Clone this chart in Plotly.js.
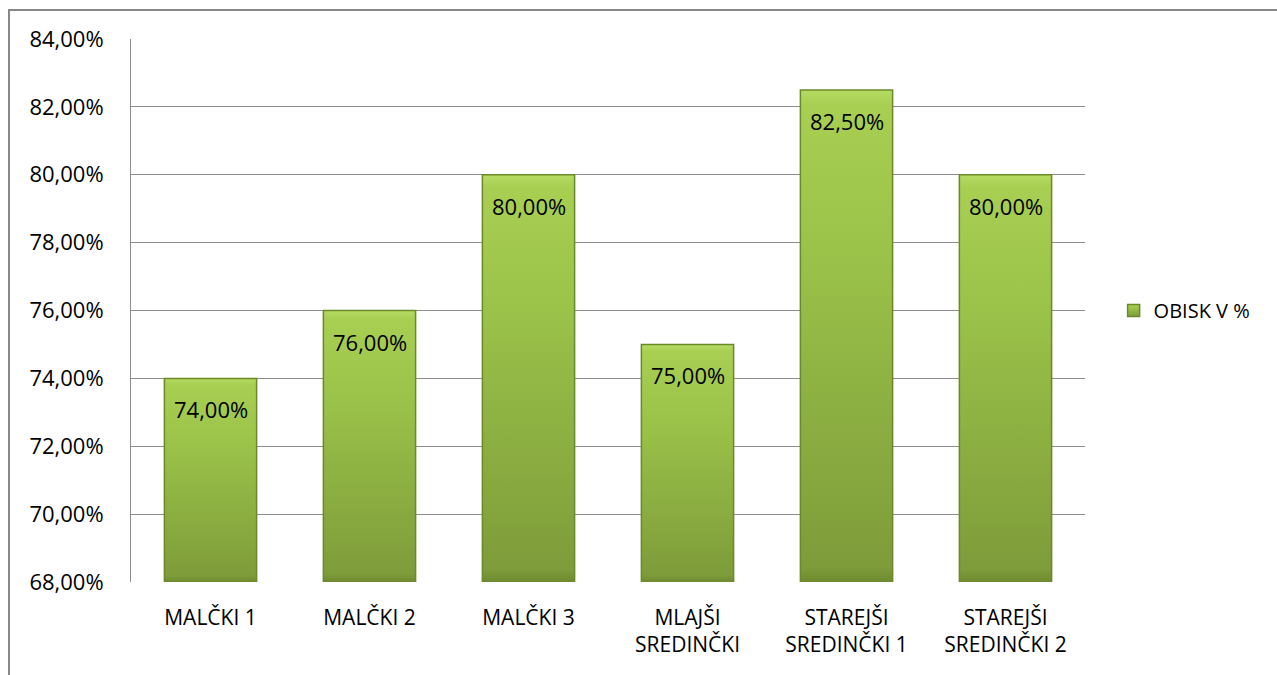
<!DOCTYPE html>
<html><head><meta charset="utf-8">
<script src="https://cdn.plot.ly/plotly-3.0.1.min.js"></script>
<style>
html,body{margin:0;padding:0;background:#fff;}
#wrap{position:relative;width:1277px;height:675px;overflow:hidden;}
#chart{width:1277px;height:675px;}
#frame{position:absolute;left:8px;top:9px;width:1300px;height:700px;border-left:2.5px solid #888;border-top:2.5px solid #888;pointer-events:none;}
</style></head>
<body>
<div id="wrap"><div id="chart"></div><div id="frame"></div></div>
<script>
const categories = ["MALČKI 1","MALČKI 2","MALČKI 3","MLAJŠI<br>SREDINČKI","STAREJŠI<br>SREDINČKI 1","STAREJŠI<br>SREDINČKI 2"];
const obisk = [0.74, 0.76, 0.80, 0.75, 0.825, 0.80];
const seriesName = "OBISK V %";
const yTicks = [0.68,0.70,0.72,0.74,0.76,0.78,0.80,0.82,0.84];

const font = "'Open Sans', 'Noto Sans', sans-serif";
const labels = obisk.map(v => (v*100).toFixed(2).replace('.', ',') + '%');
const trace = {
  type: 'bar', x: categories, y: obisk, name: seriesName,
  marker: {color: '#93bb42', line: {color: '#6a8a2a', width: 1.5}},
  hoverinfo: 'skip'
};
const annotations = categories.map((c, i) => ({
  x: c, y: obisk[i], xref: 'x', yref: 'y', text: labels[i],
  showarrow: false, yanchor: 'middle', yshift: -31,
  font: {family: font, size: 22, color: '#000'}
}));
const layout = {
  width: 1277, height: 675,
  margin: {l: 131, r: 192, t: 39, b: 93},
  paper_bgcolor: '#fff', plot_bgcolor: '#fff',
  separators: ',.',
  bargap: 0.42,
  showlegend: true,
  legend: {x: 1.03, y: 0.5, xanchor: 'left', yanchor: 'middle', itemwidth: 30,
           font: {family: font, size: 20, color: '#000'}},
  xaxis: {
    tickfont: {family: font, size: 21, color: '#000'},
    showline: false, showgrid: false, zeroline: false, ticks: '',
    ticklabelstandoff: 21, fixedrange: true
  },
  yaxis: {
    range: [0.68, 0.84], tickvals: yTicks, tickformat: '.2%',
    tickfont: {family: font, size: 22, color: '#000'},
    showgrid: true, gridcolor: '#8c8c8c', gridwidth: 1,
    showline: true, linecolor: '#8c8c8c', linewidth: 1,
    zeroline: false, ticks: '', ticklabelstandoff: 22, fixedrange: true
  },
  annotations: annotations
};
const stops = [['0', '#b6dc64'], ['0.03', '#a8cf52'], ['0.3', '#9cc44a'], ['0.97', '#7e9c3a'], ['1', '#6e8a30']];
Plotly.newPlot('chart', [trace], layout, {displayModeBar: false, staticPlot: true}).then(gd => {
  const svg = gd.querySelector('svg.main-svg');
  const ns = 'http://www.w3.org/2000/svg';
  let defs = svg.querySelector('defs');
  if (!defs) { defs = document.createElementNS(ns, 'defs'); svg.insertBefore(defs, svg.firstChild); }
  const plotH = gd._fullLayout.yaxis._length;
  const mkGrad = (id, y1, y2, units) => {
    const g = document.createElementNS(ns, 'linearGradient');
    g.setAttribute('id', id);
    g.setAttribute('x1', '0'); g.setAttribute('x2', '0');
    g.setAttribute('y1', String(y1)); g.setAttribute('y2', String(y2));
    if (units) g.setAttribute('gradientUnits', units);
    stops.forEach(([o, c]) => {
      const s = document.createElementNS(ns, 'stop'); s.setAttribute('offset', o); s.setAttribute('stop-color', c); g.appendChild(s);
    });
    defs.appendChild(g);
  };
  gd.querySelectorAll('.bars .point path').forEach((p, i) => {
    const m = p.getAttribute('d').match(/V([-\d.]+)/);
    const top = m ? parseFloat(m[1]) : 0;
    const id = 'barGrad' + i;
    mkGrad(id, top, plotH, 'userSpaceOnUse');
    p.style.fill = 'url(#' + id + ')';
  });
  mkGrad('legGrad', 0, 1, null);
  gd.querySelectorAll('.legend .legendpoints path').forEach(p => { p.style.fill = 'url(#legGrad)'; });
});
</script>
</body></html>
